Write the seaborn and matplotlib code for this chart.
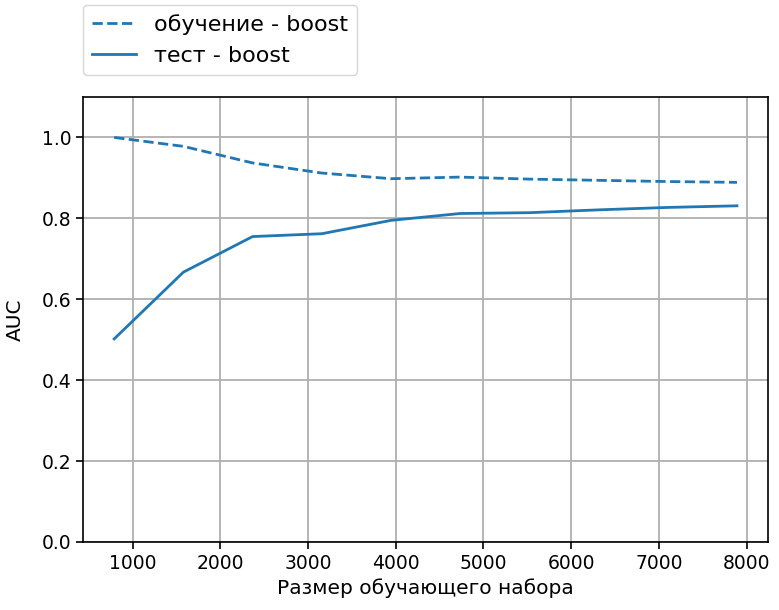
import matplotlib
matplotlib.use("Agg")
import matplotlib.pyplot as plt
import seaborn as sns
import pandas as pd

train_sizes = [789, 1578, 2367, 3156, 3945, 4734, 5523, 6312, 7101, 7890]
train_auc = [1.000, 0.978, 0.937, 0.912, 0.898, 0.902, 0.897, 0.894, 0.891, 0.889]
test_auc = [0.502, 0.667, 0.755, 0.762, 0.795, 0.812, 0.814, 0.821, 0.827, 0.831]

label_train = "обучение - boost"
label_test = "тест - boost"

plt.rcParams["font.family"] = ["DejaVu Sans"]

df_train = pd.DataFrame({"size": train_sizes, "auc": train_auc})
df_test = pd.DataFrame({"size": train_sizes, "auc": test_auc})

fig = plt.figure(figsize=(7.79, 6.10), dpi=100)
ax = fig.add_axes([0.1066, 0.1115, 0.8794, 0.7295])

color = "#1f77b4"
sns.lineplot(data=df_train, x="size", y="auc", ax=ax, color=color,
             linestyle="--", linewidth=2.0, label=label_train)
sns.lineplot(data=df_test, x="size", y="auc", ax=ax, color=color,
             linestyle="-", linewidth=2.0, label=label_test)

ax.set_ylim(0, 1.1)
ax.set_yticks([0.0, 0.2, 0.4, 0.6, 0.8, 1.0])
ax.set_xticks([1000, 2000, 3000, 4000, 5000, 6000, 7000, 8000])
ax.grid(True, color="#b0b0b0", linewidth=1.3)
ax.set_axisbelow(True)
ax.tick_params(labelsize=13.5, length=5, width=1.2)
for s in ax.spines.values():
    s.set_linewidth(1.2)
ax.set_xlabel("Размер обучающего набора", fontsize=14.5)
ax.set_ylabel("AUC", fontsize=14.5)
ax.yaxis.set_label_coords(-0.085, 0.5)

ax.get_legend().remove()
handles, labels = ax.get_legend_handles_labels()
fig.legend(handles, labels, loc="upper left",
           bbox_to_anchor=(83 / 779, 1 - 5 / 610), borderaxespad=0,
           fontsize=16, handlelength=2.0, frameon=True)

fig.savefig("out.png", dpi=100)
